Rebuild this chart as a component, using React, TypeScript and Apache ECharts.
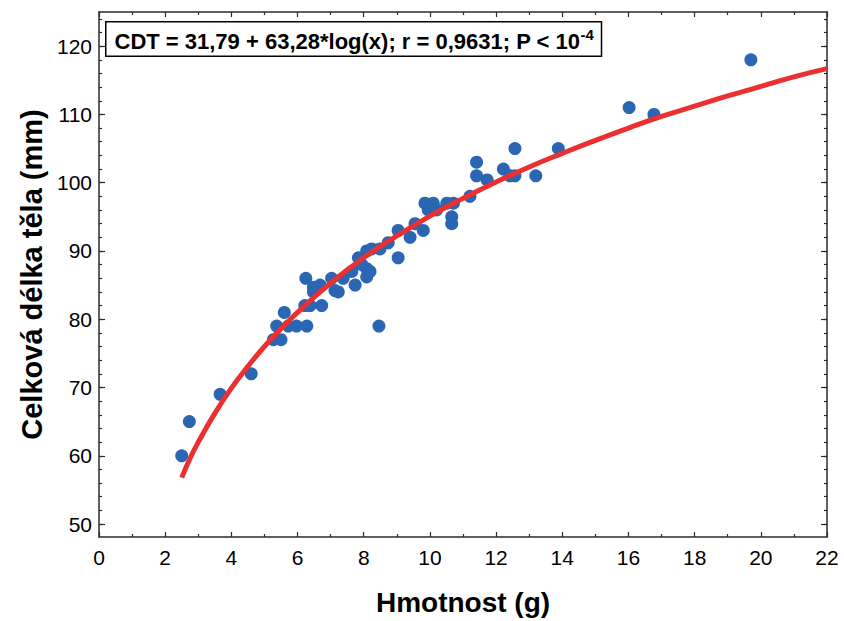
import React, { useEffect, useRef } from "react";
import * as echarts from "echarts";

// Scatter observations: [weight (g), total body length (mm)]
const weights = [
  2.5, 2.73, 3.66, 4.6, 5.27, 5.5, 5.37, 5.72, 5.97, 6.28, 5.6, 6.22, 6.38, 6.73, 6.25,
  6.48, 6.48, 6.68, 7.03, 7.13, 7.23, 7.38, 7.74, 7.64, 7.84, 8.09, 8.24, 7.94, 8.09,
  8.19, 8.09, 8.49, 8.74, 9.04, 9.04, 9.4, 9.55, 9.8, 9.85, 10.1, 10.2, 9.95, 10.51,
  10.71, 10.66, 10.66, 11.21, 11.41, 11.41, 11.73, 12.22, 12.42, 12.57, 12.57, 13.2,
  13.88, 16.02, 16.77, 19.7, 8.46,
];
const lengths = [
  60, 65, 69, 72, 77, 77, 79, 79, 79, 79, 81, 82, 82, 82, 86,
  84.7, 84, 85, 86, 84.2, 84, 86, 85, 87, 89, 90, 90.3, 88, 87.4,
  87, 86.2, 90.3, 91.2, 89, 93, 92, 94, 93, 97, 97, 96, 96, 97,
  97, 95, 94, 98, 101, 103, 100.4, 102, 101, 101, 105, 101,
  105, 111, 110, 118, 79,
];

// Fitted curve
const fitX = [2.5, 2.75, 3, 3.5, 4, 4.5, 5, 5.5, 6, 7, 8, 9, 10, 11, 12, 13, 14, 15, 16, 17, 18, 19, 20, 21, 22];
const fitY = [56.8, 59.6, 62.0, 66.2, 69.9, 73.1, 76.0, 78.6, 81.0, 85.3, 89.0, 92.2, 95.1, 97.7, 100.1, 102.3, 104.3, 106.2, 108.0, 109.7, 111.2, 112.7, 114.1, 115.5, 116.7];

// Axis ticks
const yMajorTicks = [50, 60, 70, 80, 90, 100, 110, 120];
const yMinorTicks = [50, 52, 54, 56, 58, 60, 62, 64, 66, 68, 70, 72, 74, 76, 78, 80, 82, 84, 86, 88, 90, 92, 94, 96, 98, 100, 102, 104, 106, 108, 110, 112, 114, 116, 118, 120, 122, 124];

const xTitle = "Hmotnost (g)";
const yTitle = "Celková délka těla (mm)";
const annotation = "CDT = 31,79 + 63,28*log(x); r = 0,9631; P < 10";
const annotationExp = "-4";

const FONT = "'Liberation Sans', Arial, Helvetica, sans-serif";
const AXIS_COLOR = "#2b2b2b";

export default function App() {
  const ref = useRef<HTMLDivElement>(null);

  useEffect(() => {
    document.body.style.margin = "0";
    if (!ref.current) return;
    const chart = echarts.init(ref.current, null, { renderer: "svg" });

    const yBase = { type: "value", min: 48.1, max: 125, splitLine: { show: false } };
    const xBase = {
      type: "value",
      min: 0,
      max: 22,
      interval: 2,
      splitLine: { show: false },
      axisLine: { show: true, lineStyle: { color: AXIS_COLOR, width: 1.5 } },
      axisTick: { show: true, inside: true, length: 5, lineStyle: { color: AXIS_COLOR, width: 1.2 } },
      minorTick: { show: true, splitNumber: 2, length: 3, lineStyle: { color: AXIS_COLOR, width: 1.2 } },
      minorSplitLine: { show: false },
    };

    chart.setOption({
      animation: false,
      textStyle: { fontFamily: FONT },
      grid: { left: 99, right: 17, top: 12, bottom: 81, containLabel: false },
      xAxis: [
        {
          ...xBase,
          position: "bottom",
          axisLabel: { fontSize: 21, color: "#000", margin: 10, fontFamily: FONT },
          name: xTitle,
          nameLocation: "middle",
          nameGap: 51,
          nameTextStyle: { fontSize: 28, fontWeight: "bold", color: "#000", fontFamily: FONT },
        },
        {
          ...xBase,
          position: "top",
          axisLabel: { show: false },
        },
      ],
      yAxis: [
        {
          ...yBase,
          position: "left",
          axisLine: { show: true, lineStyle: { color: AXIS_COLOR, width: 1.5 } },
          axisTick: { show: true, inside: true, length: 6, customValues: yMajorTicks, lineStyle: { color: AXIS_COLOR, width: 1.2 } },
          axisLabel: { fontSize: 21, color: "#000", margin: 7, customValues: yMajorTicks, fontFamily: FONT },
          name: yTitle,
          nameLocation: "middle",
          nameGap: 51,
          nameTextStyle: { fontSize: 29, fontWeight: "bold", color: "#000", fontFamily: FONT },
        },
        {
          ...yBase,
          position: "left",
          axisLine: { show: false },
          axisTick: { show: true, inside: true, length: 3, customValues: yMinorTicks, lineStyle: { color: AXIS_COLOR, width: 1.2 } },
          axisLabel: { show: false },
        },
        {
          ...yBase,
          position: "right",
          axisLine: { show: true, lineStyle: { color: AXIS_COLOR, width: 1.5 } },
          axisTick: { show: true, inside: true, length: 6, customValues: yMajorTicks, lineStyle: { color: AXIS_COLOR, width: 1.2 } },
          axisLabel: { show: false },
        },
        {
          ...yBase,
          position: "right",
          axisLine: { show: false },
          axisTick: { show: true, inside: true, length: 3, customValues: yMinorTicks, lineStyle: { color: AXIS_COLOR, width: 1.2 } },
          axisLabel: { show: false },
        },
      ],
      series: [
        {
          type: "scatter",
          xAxisIndex: 0,
          yAxisIndex: 0,
          data: weights.map((w, i) => [w, lengths[i]]),
          symbol: "circle",
          symbolSize: 13,
          itemStyle: { color: "#2a66b1", opacity: 1 },
          z: 2,
        },
        {
          type: "line",
          xAxisIndex: 0,
          yAxisIndex: 0,
          data: fitX.map((x, i) => [x, fitY[i]]),
          showSymbol: false,
          symbol: "none",
          smooth: true,
          lineStyle: { color: "#ea3030", width: 5 },
          z: 3,
        },
      ],
      graphic: [
        {
          type: "text",
          left: 105,
          top: 21,
          z: 10,
          style: {
            text: `{a|${annotation}}{b|${annotationExp}}`,
            backgroundColor: "#fff",
            borderColor: "#000",
            borderWidth: 1.5,
            padding: [4, 7, 3, 8],
            rich: {
              a: { fontSize: 22, fontWeight: "bold", fill: "#000", fontFamily: FONT, lineHeight: 26, verticalAlign: "bottom" },
              b: { fontSize: 15, fontWeight: "bold", fill: "#000", fontFamily: FONT, lineHeight: 26, verticalAlign: "top" },
            },
          },
        },
      ],
    });

    return () => chart.dispose();
  }, []);

  return <div ref={ref} style={{ width: 844, height: 621 }} />;
}
